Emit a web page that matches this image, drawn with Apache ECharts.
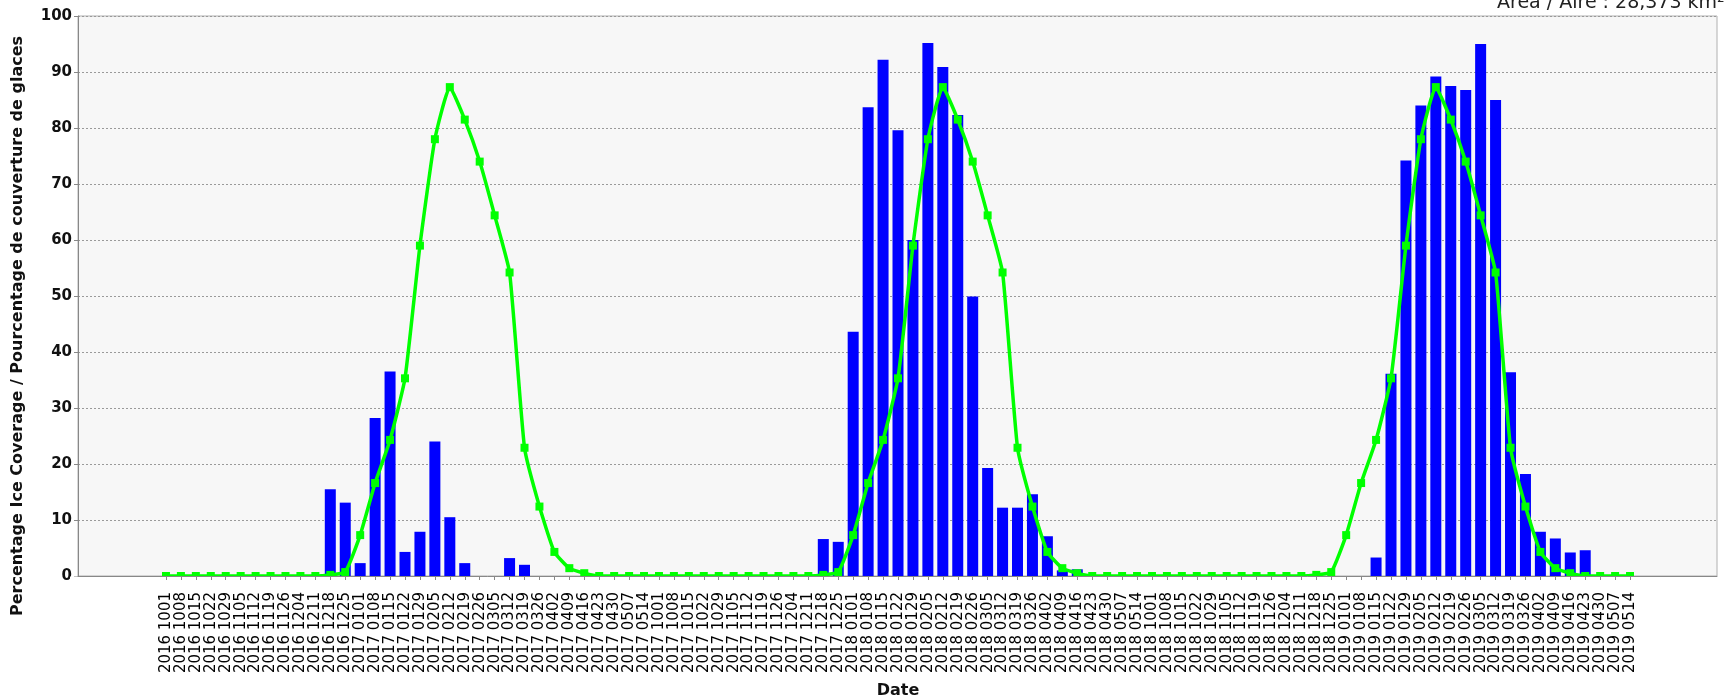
<!DOCTYPE html>
<html>
<head>
<meta charset="utf-8">
<script src="https://cdn.jsdelivr.net/npm/echarts@6/dist/echarts.min.js"></script>
<style>
  html, body { margin: 0; padding: 0; background: #fff; }
  #iceChart { width: 1726px; height: 699px; }
</style>
</head>
<body>
<div id="iceChart"></div>
<script>
// week labels, 3 winter seasons
const dates2016 = ['2016 1001','2016 1008','2016 1015','2016 1022','2016 1029','2016 1105','2016 1112','2016 1119','2016 1126','2016 1204','2016 1211','2016 1218','2016 1225',
  '2017 0101','2017 0108','2017 0115','2017 0122','2017 0129','2017 0205','2017 0212','2017 0219','2017 0226','2017 0305','2017 0312','2017 0319','2017 0326','2017 0402','2017 0409','2017 0416','2017 0423','2017 0430','2017 0507','2017 0514'];
const dates2017 = ['2017 1001','2017 1008','2017 1015','2017 1022','2017 1029','2017 1105','2017 1112','2017 1119','2017 1126','2017 1204','2017 1211','2017 1218','2017 1225',
  '2018 0101','2018 0108','2018 0115','2018 0122','2018 0129','2018 0205','2018 0212','2018 0219','2018 0226','2018 0305','2018 0312','2018 0319','2018 0326','2018 0402','2018 0409','2018 0416','2018 0423','2018 0430','2018 0507','2018 0514'];
const dates2018 = ['2018 1001','2018 1008','2018 1015','2018 1022','2018 1029','2018 1105','2018 1112','2018 1119','2018 1126','2018 1204','2018 1211','2018 1218','2018 1225',
  '2019 0101','2019 0108','2019 0115','2019 0122','2019 0129','2019 0205','2019 0212','2019 0219','2019 0226','2019 0305','2019 0312','2019 0319','2019 0326','2019 0402','2019 0409','2019 0416','2019 0423','2019 0430','2019 0507','2019 0514'];

// ice coverage (%) per week
const cover2016 = [0,0,0,0,0,0,0,0,0,0,0,15.5,13.1,
  2.3,28.2,36.5,4.3,7.9,24.0,10.5,2.3,0,0,3.2,2.0,0,0,0,0,0,0,0,0];
const cover2017 = [0,0,0,0,0,0,0,0,0,0,0,6.6,6.1,
  43.6,83.7,92.2,79.6,60.0,95.2,90.9,82.3,49.9,19.3,12.2,12.2,14.6,7.1,1.0,1.2,0,0,0,0];
const cover2018 = [0,0,0,0,0,0,0,0,0,0,0,0,0,
  0,0,3.3,36.1,74.2,84.0,89.2,87.5,86.8,95.0,85.0,36.4,18.2,7.9,6.7,4.2,4.6,0,0,0];

// median (green line)
const median2016 = [0,0,0,0,0,0,0,0,0,0,0,0.2,0.7,
  7.3,16.6,24.3,35.3,59.0,78.0,87.3,81.5,74.0,64.4,54.2,22.9,12.4,4.3,1.4,0.5,0,0,0,0];
const median2017 = [0,0,0,0,0,0,0,0,0,0,0,0.2,0.7,
  7.3,16.6,24.3,35.3,59.0,78.0,87.3,81.5,74.0,64.4,54.2,22.9,12.4,4.3,1.4,0.5,0,0,0,0];
const median2018 = [0,0,0,0,0,0,0,0,0,0,0,0.2,0.7,
  7.3,16.6,24.3,35.3,59.0,78.0,87.3,81.5,74.0,64.4,54.2,22.9,12.4,4.3,1.4,0.5,0,0,0,0];

const yTicks = [0, 10, 20, 30, 40, 50, 60, 70, 80, 90, 100];

const categories = [...dates2016, ...dates2017, ...dates2018];
const coverage = [...cover2016, ...cover2017, ...cover2018];
const median = [...median2016, ...median2017, ...median2018];

const chartDom = document.getElementById('iceChart');
const myChart = echarts.init(chartDom, null, { renderer: 'canvas' });

const font = 'DejaVu Sans';

const option = {
  backgroundColor: '#ffffff',
  animation: false,
  grid: [
    // full plot area (background, y axis, gridlines)
    { left: 78, right: 9, top: 16, bottom: 123, outerBoundsMode: 'none', containLabel: false,
      show: true, backgroundColor: '#f7f7f7', borderColor: '#b0b0b0', borderWidth: 1 },
    // data area with inner margins like the original
    { left: 158.5, right: 88.5, top: 16, bottom: 123, outerBoundsMode: 'none', containLabel: false }
  ],
  xAxis: [
    {
      gridIndex: 0, type: 'value', min: 0, max: 1, z: 10,
      axisLine: { show: true, lineStyle: { color: '#888', width: 1 } },
      axisTick: { show: false }, axisLabel: { show: false }, splitLine: { show: false }
    },
    {
      gridIndex: 1, type: 'category', data: categories, z: 10,
      axisLine: { show: false },
      axisTick: { show: true, alignWithLabel: true, length: 4, lineStyle: { color: '#888' } },
      axisLabel: { interval: 0, rotate: 90, margin: 16, fontFamily: font, fontSize: 15, color: '#000' },
      name: 'Date', nameLocation: 'middle', nameGap: 107,
      nameTextStyle: { fontFamily: font, fontSize: 16, fontWeight: 'bold', color: '#111' }
    }
  ],
  yAxis: [
    {
      gridIndex: 0, type: 'value', min: 0, max: 100, interval: 10,
      axisLine: { show: true, lineStyle: { color: '#888', width: 1 } },
      axisTick: { show: true, length: 4, lineStyle: { color: '#888' } },
      axisLabel: {
        margin: 6, fontFamily: font, fontSize: 15, fontWeight: 'bold', color: '#111',
        formatter: v => yTicks.includes(v) ? String(v) : ''
      },
      splitLine: { show: true, lineStyle: { color: '#9a9a9a', width: 1, type: [2, 2] } }
    },
    { gridIndex: 1, type: 'value', min: 0, max: 100, show: false }
  ],
  graphic: [
    // mask below the plot so markers are clipped at the data area like the original
    {
      type: 'rect', z: 8,
      shape: { x: 70, y: 576.5, width: 1656, height: 6 },
      style: { fill: '#ffffff' }
    },
    {
      type: 'text', x: 18, y: 326, rotation: Math.PI / 2,
      style: {
        text: 'Percentage Ice Coverage / Pourcentage de couverture de glaces',
        fontFamily: font, fontSize: 16, fontWeight: 'bold', fill: '#111',
        align: 'center', verticalAlign: 'middle'
      }
    },
    {
      type: 'text', x: 1497, y: 13,
      style: {
        text: 'Area / Aire : 28,373 km²',
        fontFamily: font, fontSize: 19, fill: '#222',
        align: 'left', verticalAlign: 'bottom'
      }
    }
  ],
  series: [
    {
      name: 'Ice coverage', type: 'bar', xAxisIndex: 1, yAxisIndex: 1,
      data: coverage, barWidth: 11,
      itemStyle: { color: '#0000ff' }
    },
    {
      name: 'Median', type: 'line', xAxisIndex: 1, yAxisIndex: 1,
      data: median, smooth: 0.15,
      symbol: 'rect', symbolSize: 8, showAllSymbol: true,
      lineStyle: { color: '#00ff00', width: 3.5 },
      itemStyle: { color: '#00ff00' }, z: 5
    }
  ]
};

myChart.setOption(option);
window.addEventListener('resize', () => myChart.resize());
</script>
</body>
</html>
